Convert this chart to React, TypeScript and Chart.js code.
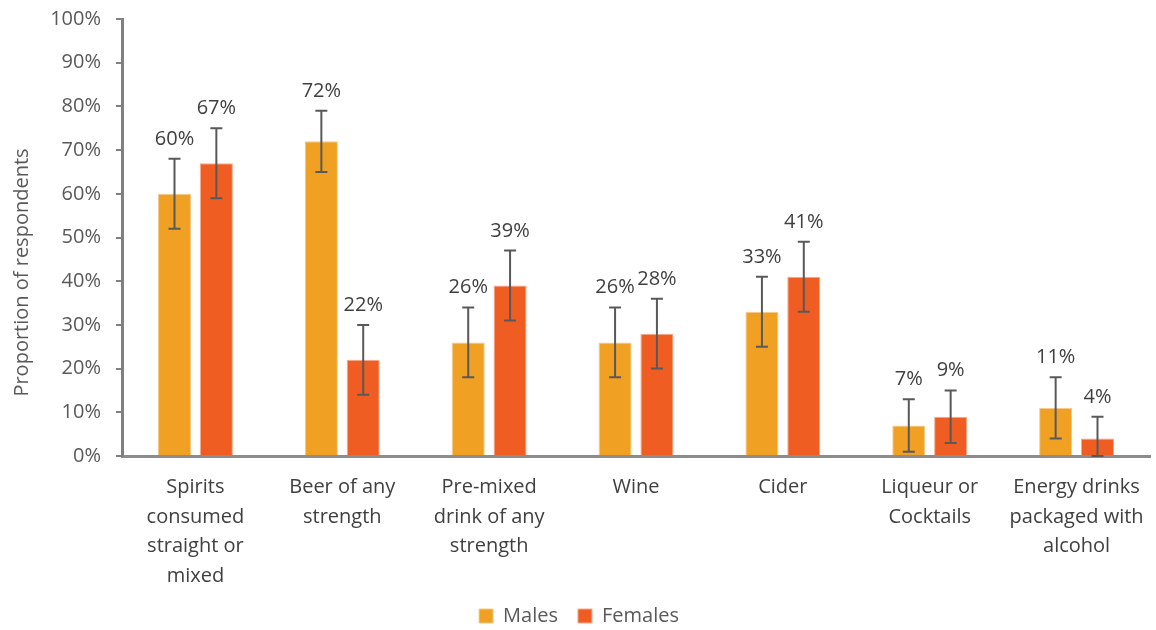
import React, { useEffect, useRef } from "react";
import { Chart, registerables } from "chart.js";

Chart.register(...registerables);

const categories: string[][] = [
  ["Spirits", "consumed", "straight or", "mixed"],
  ["Beer of any", "strength"],
  ["Pre-mixed", "drink of any", "strength"],
  ["Wine"],
  ["Cider"],
  ["Liqueur or", "Cocktails"],
  ["Energy drinks", "packaged with", "alcohol"],
];
const males = [60, 72, 26, 26, 33, 7, 11];
const females = [67, 22, 39, 28, 41, 9, 4];
const malesLow = [52, 65, 18, 18, 25, 1, 4];
const malesHigh = [68, 79, 34, 34, 41, 13, 18];
const femalesLow = [59, 14, 31, 20, 33, 3, 0];
const femalesHigh = [75, 30, 47, 36, 49, 15, 9];
const yTicks = [0, 10, 20, 30, 40, 50, 60, 70, 80, 90, 100];
const yTitle = "Proportion of respondents";

const FONT = "'Open Sans', sans-serif";
const FS = 20;

const errorBarPlugin = {
  id: "errorBars",
  afterDatasetsDraw(chart: any) {
    const ctx = chart.ctx;
    const y = chart.scales.y;
    const lows = [malesLow, femalesLow];
    const highs = [malesHigh, femalesHigh];
    const vals = [males, females];
    ctx.save();
    chart.data.datasets.forEach((_: any, di: number) => {
      const meta = chart.getDatasetMeta(di);
      meta.data.forEach((el: any, j: number) => {
        const x = el.x;
        const yt = y.getPixelForValue(highs[di][j]);
        const yb = y.getPixelForValue(lows[di][j]);
        ctx.strokeStyle = "#595959";
        ctx.lineWidth = 2;
        ctx.beginPath();
        ctx.moveTo(x, yt);
        ctx.lineTo(x, yb);
        ctx.moveTo(x - 6, yt);
        ctx.lineTo(x + 6, yt);
        ctx.moveTo(x - 6, yb);
        ctx.lineTo(x + 6, yb);
        ctx.stroke();
        ctx.fillStyle = "#404040";
        ctx.font = `${FS}px ${FONT}`;
        ctx.textAlign = "center";
        ctx.textBaseline = "alphabetic";
        ctx.fillText(vals[di][j] + "%", x, yt - 14);
      });
    });
    ctx.restore();
  },
};

const layoutPlugin = {
  id: "layoutTweaks",
  afterLayout(chart: any) {
    const lg = chart.legend;
    if (lg) {
      lg.top += 6;
      lg.bottom += 6;
    }
    const xs = chart.scales.x;
    if (xs) xs.bottom = chart.height;
  },
  afterDraw(chart: any) {
    const ctx = chart.ctx;
    const area = chart.chartArea;
    ctx.save();
    ctx.translate(22, (area.top + area.bottom) / 2 + 35);
    ctx.rotate(-Math.PI / 2);
    ctx.fillStyle = "#595959";
    ctx.font = `20px ${FONT}`;
    ctx.textAlign = "center";
    ctx.textBaseline = "middle";
    ctx.fillText(yTitle, 0, 0);
    ctx.restore();
  },
};

export default function App() {
  const ref = useRef<HTMLCanvasElement>(null);
  useEffect(() => {
    const chart = new Chart(ref.current!, {
      type: "bar",
      data: {
        labels: categories as any,
        datasets: [
          {
            label: "Males",
            data: males,
            backgroundColor: "#F0A022",
            borderColor: "#F7C98A",
            borderWidth: 1,
            categoryPercentage: 0.57,
            barPercentage: 0.79,
          },
          {
            label: "Females",
            data: females,
            backgroundColor: "#F05D23",
            borderColor: "#F7A98A",
            borderWidth: 1,
            categoryPercentage: 0.57,
            barPercentage: 0.79,
          },
        ],
      },
      options: {
        animation: false,
        responsive: false,
        layout: { padding: { left: 8, right: 6, top: 19, bottom: 0 } },
        plugins: {
          tooltip: { enabled: false },
          legend: {
            position: "bottom",
            labels: {
              font: { family: FONT, size: FS },
              color: "#595959",
              boxWidth: 14,
              boxHeight: 14,
              padding: 20,
            },
          },
        },
        scales: {
          x: {
            grid: { display: false, drawTicks: false },
            border: { display: true, color: "#8c8c8c", width: 3 },
            ticks: {
              color: "#404040",
              font: { family: FONT, size: FS, lineHeight: 1.47 },
              maxRotation: 0,
              autoSkip: false,
              padding: 17,
            },
            afterFit(scale: any) {
              scale.height = 124;
              scale.paddingLeft = 0;
              scale.paddingRight = 0;
            },
          },
          y: {
            min: 0,
            max: 100,
            afterBuildTicks(scale: any) {
              scale.ticks = yTicks.map((v) => ({ value: v }));
            },
            grid: {
              drawOnChartArea: false,
              drawTicks: true,
              tickLength: 6,
              color: "#808080",
              lineWidth: 2,
            },
            border: { display: true, color: "#808080", width: 3 },
            ticks: {
              color: "#595959",
              font: { family: FONT, size: FS },
              padding: 15,
              callback: (v: any) => v + "%",
            },
            title: { display: false },
            afterFit(scale: any) {
              scale.width = 114;
              scale.paddingTop = 0;
              scale.paddingBottom = 0;
            },
          },
        },
      },
      plugins: [errorBarPlugin, layoutPlugin],
    });
    return () => chart.destroy();
  }, []);
  return (
    <div style={{ position: "fixed", left: 0, top: 0, width: 1156, height: 630, background: "#fff" }}>
      <canvas ref={ref} width={1156} height={630} />
    </div>
  );
}
